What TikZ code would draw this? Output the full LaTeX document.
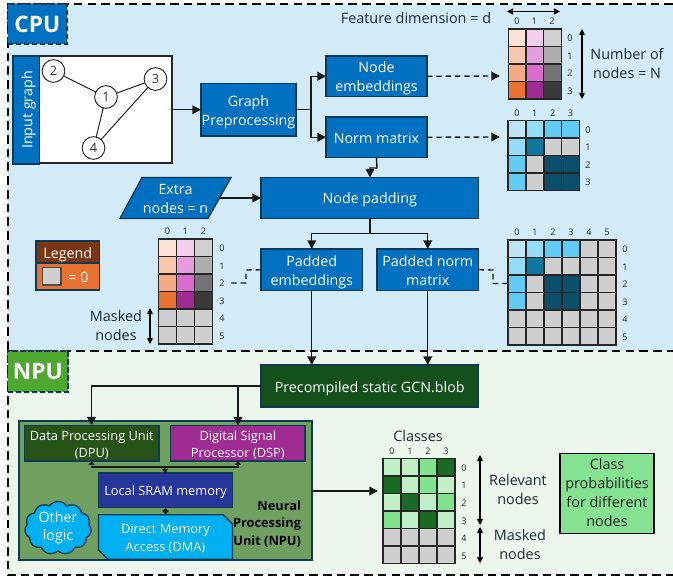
\documentclass[tikz,border=0pt]{standalone}
\usepackage{fontspec}
\setmainfont{Open Sans}
\usetikzlibrary{arrows.meta,shapes.misc,shapes.symbols}
\definecolor{cpubg}{HTML}{D2EBF6}
\definecolor{npubg}{HTML}{EDF6EC}
\definecolor{bluefill}{HTML}{0070C0}
\definecolor{boxedge}{HTML}{0E3A56}
\definecolor{cpugreen}{HTML}{4EA72E}
\definecolor{darkgreen}{HTML}{13501B}
\definecolor{npufill}{HTML}{6FA060}
\definecolor{dpufill}{HTML}{275317}
\definecolor{dspfill}{HTML}{A02B93}
\definecolor{sramfill}{HTML}{26359A}
\definecolor{cyanfill}{HTML}{00B0F0}
\definecolor{classfill}{HTML}{84E291}
\definecolor{legendtop}{HTML}{7A3612}
\definecolor{orangefill}{HTML}{E97132}
\definecolor{zero}{HTML}{CFCFCF}
\definecolor{inktext}{HTML}{1A2A33}
\definecolor{oa}{HTML}{FCE3D6}\definecolor{ob}{HTML}{F7C8AE}\definecolor{oc}{HTML}{F4AA84}\definecolor{od}{HTML}{E97132}
\definecolor{pa}{HTML}{F2CEEF}\definecolor{pb}{HTML}{E59EDC}\definecolor{pc}{HTML}{D86DCD}\definecolor{pd}{HTML}{A02B93}
\definecolor{ga}{HTML}{D0D0D0}\definecolor{gb}{HTML}{ADADAD}\definecolor{gc}{HTML}{747474}\definecolor{gd}{HTML}{3A3A3A}
\definecolor{ba}{HTML}{C0E4F5}\definecolor{bb}{HTML}{95DCF7}\definecolor{bc}{HTML}{61CBF3}\definecolor{bd}{HTML}{0F77A0}\definecolor{be}{HTML}{0B4F6B}
\definecolor{na}{HTML}{C1F0C8}\definecolor{nb}{HTML}{83E28E}\definecolor{nc}{HTML}{196B24}
\newcommand{\st}{\rule[-2.7pt]{0pt}{14.4pt}}
\newcommand{\sts}{\rule[-2.4pt]{0pt}{13.2pt}}
\newcommand{\pxbox}[7]{% name,x1,y1,x2,y2,style,text
  \pgfmathsetmacro{\pxcx}{(#2+#4)/2}\pgfmathsetmacro{\pxcy}{(#3+#5)/2}
  \pgfmathsetmacro{\pxw}{(#4-#2)*0.75}\pgfmathsetmacro{\pxh}{(#5-#3)*0.75}
  \node[#6,minimum width=\pxw pt,minimum height=\pxh pt] (#1) at (\pxcx,\pxcy) {#7};}
\newcommand{\heat}[6]{%
  \foreach \rowlist [count=\r from 0] in {#6}{
    \foreach \colr [count=\c from 0] in \rowlist {
      \pgfmathsetmacro{\ax}{#2+\c*#4}\pgfmathsetmacro{\ay}{#3+\r*#5}
      \draw[cellline,fill=\colr] (\ax,\ay) rectangle ++(#4,#5);
    }}}
\newcommand{\collabels}[4]{\foreach \t [count=\c from 0] in {#4}{\pgfmathsetmacro{\ax}{#1+\c*#3}\node[idx] (#1c\c) at (\ax,#2) {\t};}}
\newcommand{\rowlabels}[4]{\foreach \t [count=\c from 0] in {#4}{\pgfmathsetmacro{\ay}{#2+\c*#3}\node[idx] (#2r\c) at (#1,\ay) {\t};}}
\tikzset{
  every node/.style={inner sep=0pt,outer sep=0pt,align=center},
  txt/.style={font=\fontsize{10.7}{14.4}\selectfont,text=white},
  bluebox/.style={txt,draw=boxedge,line width=1pt,fill=bluefill},
  lab/.style={font=\fontsize{10.8}{14.4}\selectfont,text=inktext},
  idx/.style={font=\fontsize{6.8}{8}\selectfont,text=inktext},
  cellline/.style={draw=black!85,line width=1.05pt},
  graphnode/.style={circle,draw=black!85,fill=white,line width=0.7pt,minimum size=17pt,font=\fontsize{9.5}{10}\selectfont,text=black!80},
  edge/.style={draw=black!85,line width=0.75pt},
  conn/.style={draw=black!90,line width=1.05pt},
  arr/.style={conn,-{Triangle[length=6.5pt,width=6.5pt]}},
  dasharr/.style={arr,dash pattern=on 4pt off 3pt},
  dashln/.style={conn,dash pattern=on 4pt off 3pt},
  dbl/.style={draw=black,line width=0.85pt,{Triangle[length=4.5pt,width=4.5pt]}-{Triangle[length=4.5pt,width=4.5pt]}},
  frame/.style={draw=black,line width=1.5pt,dash pattern=on 6.5pt off 3.8pt},
  smalltxt/.style={font=\fontsize{9.6}{13.2}\selectfont,text=white},
}
\begin{document}
\begin{tikzpicture}[x=0.75pt,y=-0.75pt]
\useasboundingbox (0,0) rectangle (673,577);
\fill[cpubg] (7.5,4) rectangle (673,351);
\fill[npubg] (7.5,351) rectangle (673,575);
\draw[frame] (673,4) -- (7.5,4) -- (7.5,575) -- (673,575);
\draw[frame] (7.5,351) -- (673,351);
\pxbox{cpu}{7.5}{4}{67}{44}{draw=boxedge,line width=1.4pt,dash pattern=on 4pt off 2pt,fill=bluefill,text=white,font=\fontsize{17}{20}\bfseries\selectfont}{CPU}
\pxbox{npu}{7.5}{351}{68}{392}{draw=boxedge,line width=1.4pt,dash pattern=on 4pt off 2pt,fill=cpugreen,text=white,font=\fontsize{17}{20}\bfseries\selectfont}{NPU}
% input graph
\pxbox{gbox}{39.5}{56}{172}{163}{draw=black!85,line width=1pt,fill=white}{}
\pxbox{gstrip}{13}{56}{39.5}{164}{bluebox}{\rotatebox{90}{\st Input graph}}
\node[graphnode] (n2) at (53.5,71) {2};
\node[graphnode] (n1) at (106,97) {1};
\node[graphnode] (n3) at (155.5,79) {3};
\node[graphnode] (n4) at (93.5,148) {4};
\draw[edge] (n2)--(n1); \draw[edge] (n1)--(n3); \draw[edge] (n1)--(n4); \draw[edge] (n3)--(n4);
% CPU boxes
\pxbox{gp}{201}{83.5}{296}{136}{bluebox}{\st Graph\\\st Preprocessing}
\pxbox{ne}{326}{56}{427}{96.5}{bluebox}{\st Node\\\st embeddings}
\pxbox{nm}{326}{117}{427}{157.5}{bluebox}{\st Norm matrix}
\pxbox{np}{261}{177.5}{478.5}{218.5}{bluebox}{\st Node padding}
\pxbox{pe}{261}{249}{362.5}{290.5}{bluebox}{\st Padded\\\st embeddings}
\pxbox{pn}{377}{249}{478.5}{290.5}{bluebox}{\st Padded norm\\\st matrix}
\pxbox{blob}{261}{365}{478.5}{407}{txt,draw=boxedge,line width=1pt,fill=darkgreen}{\st Precompiled static GCN.blob}
\draw[draw=boxedge,line width=1pt,fill=bluefill] (142,177.5)--(231,177.5)--(208,218.5)--(120,218.5)--cycle;
\node[txt] (extra) at (175.5,197.6) {\st Extra\\\st nodes = n};
\coordinate (exr) at (220,198);
\draw[arr] (gbox.east |- gp.west) -- (gp.west);
\draw[arr] (gp.east) -- ++(15,0) |- (ne.west);
\draw[arr] (gp.east) -- ++(15,0) |- (nm.west);
\coordinate (m1in) at (500,76); \coordinate (m2in) at (500,137);
\draw[dasharr] (ne.east) -- (m1in);
\draw[dasharr] (nm.east) -- (m2in);
\coordinate (nmb) at (377,168); \coordinate (npt) at (370,168);
\draw[arr] (nm.south) -- (nmb) -- (npt) -- (np.north -| npt);
\draw[arr] (exr) -- (np.west |- exr);
\coordinate (npj) at (370,233.5);
\draw[conn] (np.south -| npj) -- (npj);
\draw[arr] (npj) -| (pe.north);
\draw[arr] (npj) -| (pn.north);
\draw[arr] (pe.south) -- (blob.north -| pe.south);
\draw[arr] (pn.south) -- (blob.north -| pn.south);
\coordinate (pel1) at (246,270); \coordinate (pel2) at (246,283); \coordinate (pel3) at (230,283);
\draw[dashln] (pe.west) -- (pel1) -- (pel2) -- (pel3);
\coordinate (pnl1) at (493,270); \coordinate (pnl2) at (493,283.5); \coordinate (pnl3) at (508,283.5);
\draw[dashln] (pn.east) -- (pnl1) -- (pnl2) -- (pnl3);
% matrix 1
\node[lab] (fd) at (416,18) {\st Feature dimension = d};
\coordinate (fda) at (507,11.5); \coordinate (fdb) at (560,11.5);
\draw[dbl] (fda) -- (fdb);
\collabels{517}{21}{17.5}{0,1,2}
\heat{m1}{508.5}{29}{17.6}{17.5}{{oa,pa,ga},{ob,pb,gb},{oc,pc,gc},{od,pd,gd}}
\rowlabels{570}{38.5}{17.5}{0,1,2,3}
\coordinate (nna) at (582,29); \coordinate (nnb) at (582,99);
\draw[dbl] (nna) -- (nnb);
\node[lab] (nn) at (627,62.7) {\st Number of\\\st nodes = N};
% matrix 2
\collabels{517}{113}{17.8}{0,1,2,3}
\heat{m2}{508}{120.5}{17.9}{17.5}{{ba,bb,bc,bc},{bb,bd,zero,zero},{bc,zero,be,be},{bc,zero,be,be}}
\rowlabels{588}{130}{17.4}{0,1,2,3}
% matrix 3
\collabels{167.5}{231}{18}{0,1,2}
\heat{m3}{158.5}{239}{18}{17.5}{{oa,pa,ga},{ob,pb,gb},{oc,pc,gc},{od,pd,gd},{zero,zero,zero},{zero,zero,zero}}
\rowlabels{222}{248.5}{17.5}{0,1,2,3,4,5}
\coordinate (ma) at (150,308); \coordinate (mb) at (150,344);
\draw[dbl] (ma) -- (mb);
\node[lab] (mask1) at (116,324.6) {\st Masked\\\st nodes};
% legend
\pxbox{lh}{36}{241}{99.5}{263}{txt,draw=boxedge,line width=1pt,fill=legendtop}{\st Legend}
\pxbox{lo}{36}{263}{99.5}{290}{draw=boxedge,line width=1pt,fill=orangefill}{}
\pxbox{ls}{42.5}{267.5}{61}{285}{draw=black!70,line width=1pt,fill=zero}{}
\node[txt] (leq) at (78.5,276) {\st = 0};
% matrix 4
\collabels{517}{232}{18}{0,1,2,3,4,5}
\heat{m4}{508}{240}{18}{17.5}{{ba,bb,bc,bc,zero,zero},{bb,bd,zero,zero,zero,zero},{bc,zero,be,be,zero,zero},{bc,zero,be,be,zero,zero},{zero,zero,zero,zero,zero,zero},{zero,zero,zero,zero,zero,zero}}
\rowlabels{625}{249.5}{17.5}{0,1,2,3,4,5}
% NPU
\pxbox{npubox}{19}{421}{312}{560}{draw=boxedge,line width=0.8pt,fill=npufill}{}
\pxbox{dpu}{24.5}{426}{159}{460.5}{smalltxt,draw=boxedge,line width=1pt,fill=dpufill}{\sts Data Processing Unit\\\sts (DPU)}
\pxbox{dsp}{170.5}{426}{305}{460.5}{smalltxt,draw=boxedge,line width=1pt,fill=dspfill}{\sts Digital Signal\\\sts Processor (DSP)}
\pxbox{sram}{98.5}{473}{232.5}{507.5}{smalltxt,draw=boxedge,line width=1pt,fill=sramfill}{\sts Local SRAM memory}
\pxbox{dma}{98.5}{520}{232.5}{554}{smalltxt,chamfered rectangle,chamfered rectangle corners={north east,south west},chamfered rectangle sep=3.5pt,draw=boxedge,line width=1pt,fill=cyanfill}{\sts Direct Memory\\\sts Access (DMA)}
\node[cloud,cloud puffs=11,cloud puff arc=110,aspect=1.3,draw=boxedge,line width=1pt,fill=cyanfill,minimum width=50pt,minimum height=38pt,font=\fontsize{10.7}{13.8}\selectfont,text=white] (cloud) at (58,528) {Other\\logic};
\node[font=\fontsize{9.6}{13.2}\bfseries\selectfont,text=black,align=right,anchor=east] (nlabel) at (301,522) {\sts Neural\\\sts Processing\\\sts Unit (NPU)};
\coordinate (dpux) at (91.5,386); \coordinate (dspx) at (238,386);
\draw[arr] (blob.west |- dpux) -- (dpux) -- (dpux |- dpu.north);
\draw[arr] (dspx) -- (dspx |- dsp.north);
\coordinate (bus) at (165,467);
\draw[conn,line width=1.1pt,{Triangle[length=3pt,width=4.5pt]}-{Triangle[length=3pt,width=4.5pt]}] (dpux |- dpu.south) |- (bus) -| (dspx |- dsp.south);
\draw[conn,-{Triangle[length=3pt,width=4.5pt]}] (bus) -- (sram.north);
\draw[conn,{Triangle[length=3.5pt,width=4.5pt]}-{Triangle[length=3.5pt,width=4.5pt]}] (sram.south) -- (dma.north);
% classes
\coordinate (clin) at (378,491);
\draw[arr] (npubox.east |- clin) -- (clin);
\node[lab] (cl) at (418,435.7) {\st Classes};
\collabels{392}{451}{18}{0,1,2,3}
\heat{m5}{383}{458.5}{18}{17.5}{{na,na,nb,nc},{nc,na,nb,na},{na,nc,na,nb},{nb,na,nc,na},{zero,zero,zero,zero},{zero,zero,zero,zero}}
\rowlabels{464}{468}{17.6}{0,1,2,3,4,5}
\coordinate (ra) at (480,455); \coordinate (rb) at (480,525); \coordinate (rc) at (480,527); \coordinate (rd) at (480,563);
\draw[dbl] (ra) -- (rb); \draw[dbl] (rc) -- (rd);
\node[lab] (rel) at (518,488.6) {\st Relevant\\\st nodes};
\node[lab] (mask2) at (520,543.6) {\st Masked\\\st nodes};
\pxbox{cp}{560}{454.5}{654}{532.5}{lab,text=black!85,draw=black,line width=1pt,fill=classfill}{\st Class\\\st probabilities\\\st for different\\\rule[-4.8pt]{0pt}{16.5pt}nodes}
\end{tikzpicture}
\end{document}
